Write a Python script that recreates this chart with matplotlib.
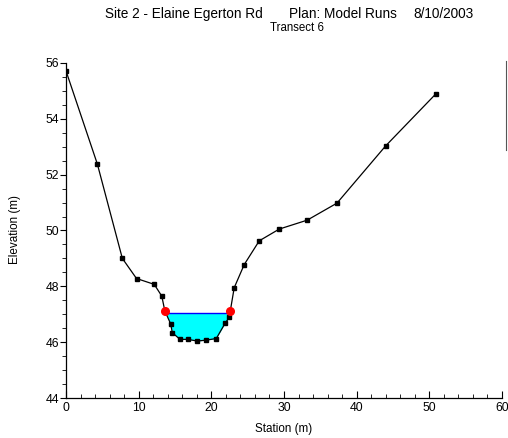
import numpy as np
import matplotlib
matplotlib.use("Agg")
import matplotlib.pyplot as plt
from matplotlib.lines import Line2D
from matplotlib.ticker import MultipleLocator

plt.rcParams['font.family'] = ['Liberation Sans', 'DejaVu Sans']

# Ground profile of the transect (station, elevation)
station = [0.0, 4.31, 7.75, 9.70, 12.14, 13.18, 13.6, 14.41, 14.63, 15.69, 16.79,
           18.03, 19.22, 20.68, 21.88, 22.47, 22.6, 23.15, 24.53, 26.6, 29.35,
           33.2, 37.3, 44.0, 50.9]
elevation = [55.71, 52.38, 49.0, 48.28, 48.07, 47.65, 47.12, 46.65, 46.34, 46.10, 46.10,
             46.04, 46.07, 46.13, 46.67, 46.89, 47.10, 47.95, 48.78, 49.63, 50.05,
             50.37, 50.98, 53.03, 54.89]

# Bank stations
bank_station = [13.6, 22.6]
bank_elevation = [47.12, 47.10]

# Water surface elevation
ws_elev = 47.03

fig = plt.figure(figsize=(5.08, 4.38), dpi=100)
ax = fig.add_axes([0.13, 0.0913, 0.858, 0.765])

x = np.array(station)
z = np.array(elevation)
ws = np.full_like(x, ws_elev)
ax.fill_between(x, z, ws, where=z <= ws, interpolate=True, color='#00FFFF',
                linewidth=0, zorder=1)

# water surface line across the wetted width
xl = np.interp(ws_elev, z[5:8][::-1], x[5:8][::-1])
xr = np.interp(ws_elev, z[14:18], x[14:18])
ax.plot([xl, xr], [ws_elev, ws_elev], color='#0000FF', lw=1.0, zorder=2)

ax.plot(x, z, color='black', lw=0.9, marker='s', markersize=3.5, zorder=3)
ax.plot(bank_station, bank_elevation, linestyle='none', marker='o', color='#FF0000',
        markersize=5.5, zorder=4)

ax.set_xlim(0, 60)
ax.set_ylim(44, 56)
ax.xaxis.set_major_locator(MultipleLocator(10))
ax.xaxis.set_minor_locator(MultipleLocator(2))
ax.yaxis.set_major_locator(MultipleLocator(2))
ax.yaxis.set_minor_locator(MultipleLocator(0.5))
ax.tick_params(axis='x', which='both', direction='in', labelsize=8.8, pad=3)
ax.tick_params(axis='x', which='major', length=5)
ax.tick_params(axis='x', which='minor', length=3)
ax.tick_params(axis='y', which='both', direction='out', labelsize=8.8, pad=1)
ax.tick_params(axis='y', which='major', length=4)
ax.tick_params(axis='y', which='minor', length=3)
for s in ['top', 'right']:
    ax.spines[s].set_visible(False)
for s in ['left', 'bottom']:
    ax.spines[s].set_linewidth(0.9)

fig.text(0.03, 0.475, 'Elevation (m)', rotation=90, ha='center', va='center', fontsize=8.4)
fig.text(0.559, 0.02, 'Station (m)', ha='center', va='center', fontsize=8.4)

fig.text(0.361, 0.968, 'Site 2 - Elaine Egerton Rd', ha='center', va='center', fontsize=9.8)
fig.text(0.675, 0.968, 'Plan: Model Runs', ha='center', va='center', fontsize=9.8)
fig.text(0.874, 0.968, '8/10/2003', ha='center', va='center', fontsize=9.8)
fig.text(0.584, 0.937, 'Transect 6', ha='center', va='center', fontsize=8.3)

# edge of the legend frame at the right margin
fig.add_artist(Line2D([0.997, 0.997], [1 - 61 / 438, 1 - 150 / 438],
                      transform=fig.transFigure, color='#555555', lw=0.8))

fig.savefig('out.png', dpi=100)
